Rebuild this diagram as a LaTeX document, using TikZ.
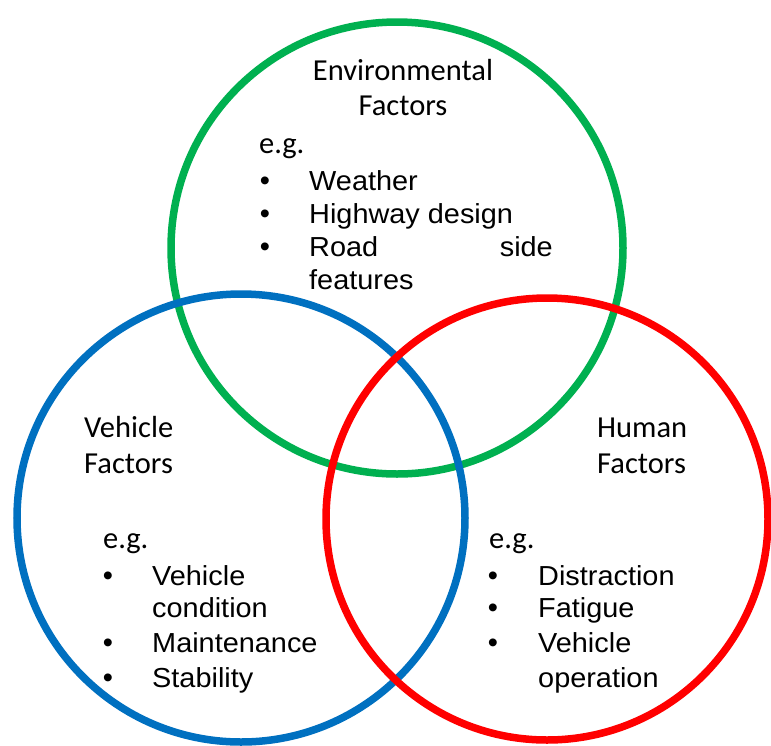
\documentclass[tikz,border=0pt]{standalone}
\usepackage{fontspec}
\setmainfont{Liberation Sans}
\newfontfamily\headfont{Carlito}
\definecolor{envgreen}{RGB}{0,176,80}
\definecolor{vehblue}{RGB}{0,112,192}
\definecolor{humred}{RGB}{255,0,0}
\begin{document}
\begin{tikzpicture}[x=1pt,y=-1pt]
\tikzstyle{ring}=[line width=7.5pt]
\tikzstyle{head}=[anchor=base west,inner sep=0pt,font=\headfont\fontsize{30.5}{34}\selectfont]
\tikzstyle{item}=[anchor=base west,inner sep=0pt,xscale=1.05,font=\fontsize{27.5}{33}\selectfont]
\tikzstyle{dot}=[anchor=base,inner sep=0pt,font=\fontsize{29}{33}\selectfont]
\useasboundingbox (0,0) rectangle (771,745);
  % the three circles, green at the back
  \foreach \place/\rad/\col in {{(397,248)/226/envgreen},
                                {(241,518)/224/vehblue},
                                {(547,519)/221/humred}}
    \draw[ring,\col] \place circle (\rad pt);
  % environmental
  \node[head,anchor=base] (envtitle) at (403,80) {Environmental};
  \node[head,anchor=base] (envfact) at (403,115) {Factors};
  \node[head] (enveg) at (259,153) {e.g.};
  \foreach \y/\txt/\name in {190/Weather/weather,
                             223/Highway design/highway}
    {\node[dot] (b\name) at (265,\y) {\textbullet};
     \node[item,transform shape] (\name) at (309,\y) {\txt};}
  \node[dot] (broad) at (265,256) {\textbullet};
  \node[item,text width=232pt,transform shape] (road) at (309,256) {Road\hfill side};
  \node[item,transform shape] (features) at (309,289) {features};
  % vehicle
  \node[head] (vehtitle) at (84,437) {Vehicle};
  \node[head] (vehfact) at (84,473) {Factors};
  \node[head] (veheg) at (103,548) {e.g.};
  \foreach \y/\txt/\name in {585/Vehicle/vehicle,
                             652/Maintenance/maint,
                             687/Stability/stab}
    {\node[dot] (b\name) at (108,\y) {\textbullet};
     \node[item,transform shape] (\name) at (152,\y) {\txt};}
  \node[item,transform shape] (condition) at (152,617) {condition};
  % human
  \node[head] (humtitle) at (597,437) {Human};
  \node[head] (humfact) at (597,473) {Factors};
  \node[head] (humeg) at (489,548) {e.g.};
  \foreach \y/\txt/\name in {585/Distraction/distr,
                             617/Fatigue/fatigue,
                             652/Vehicle/vehop}
    {\node[dot] (b\name) at (493,\y) {\textbullet};
     \node[item,transform shape] (\name) at (538,\y) {\txt};}
  \node[item,transform shape] (operation) at (538,687) {operation};
\end{tikzpicture}
\end{document}
